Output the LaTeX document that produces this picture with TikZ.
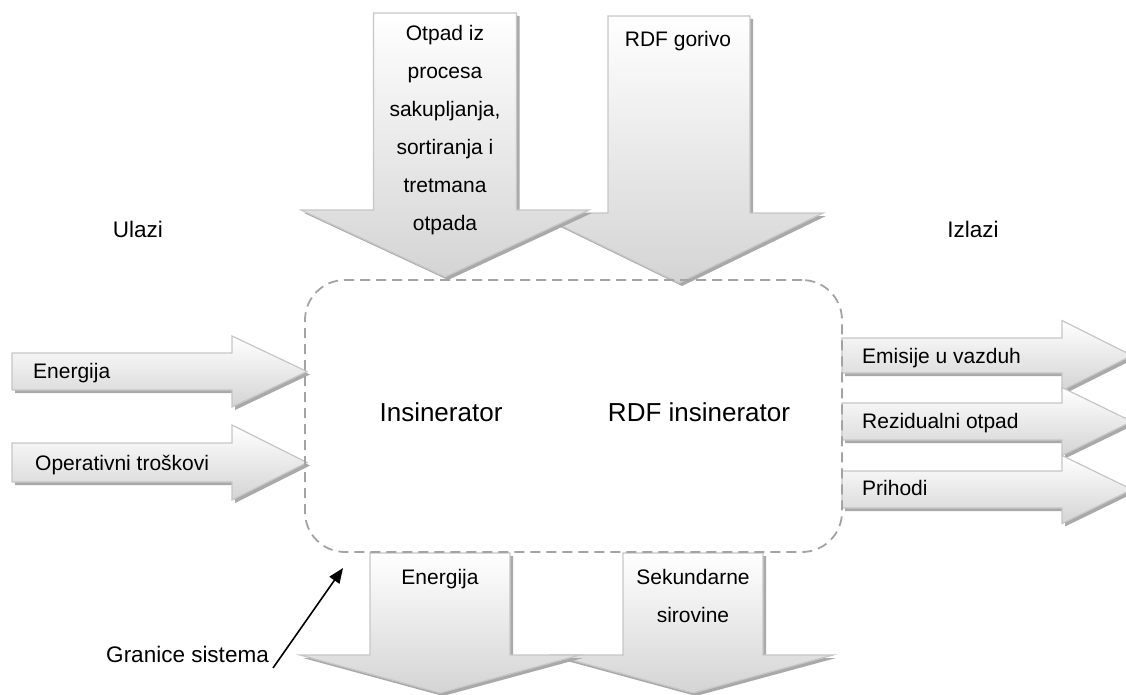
\documentclass[tikz,border=0pt]{standalone}
\usepackage{fontspec}
\setmainfont{Liberation Sans}
\usetikzlibrary{arrows.meta}
\definecolor{edgegray}{HTML}{C6C6C6}
\definecolor{shadowgray}{HTML}{A9A9A9}
\definecolor{fillgray}{HTML}{D4D4D4}
\definecolor{dashgray}{HTML}{A3A3A3}
\newcommand\dnarr[6]{% cx, top, neck, tip, shaft half, head half
  \fill[arrshadow,shift={(3,3)}] (#1-#5,#2) -- (#1+#5,#2) -- (#1+#5,#3) -- (#1+#6,#3) -- (#1,#4) -- (#1-#6,#3) -- (#1-#5,#3) -- cycle;
  \shade[arrbody] (#1-#5,#2) -- (#1+#5,#2) -- (#1+#5,#3) -- (#1+#6,#3) -- (#1,#4) -- (#1-#6,#3) -- (#1-#5,#3) -- cycle;
}
\newcommand\rtarr[6]{% left x, cy, neck x, tip x, shaft half, head half
  \fill[arrshadow,shift={(3,3)}] (#1,#2-#5) -- (#3,#2-#5) -- (#3,#2-#6) -- (#4,#2) -- (#3,#2+#6) -- (#3,#2+#5) -- (#1,#2+#5) -- cycle;
  \shade[arrbody] (#1,#2-#5) -- (#3,#2-#5) -- (#3,#2-#6) -- (#4,#2) -- (#3,#2+#6) -- (#3,#2+#5) -- (#1,#2+#5) -- cycle;
}
\begin{document}
\begin{tikzpicture}[x=1pt,y=-1pt,
  arrbody/.style={top color=white,bottom color=fillgray,draw=edgegray,line width=1.2pt},
  arrshadow/.style={fill=shadowgray},
  lbl/.style={font=\fontsize{21}{38}\selectfont,inner sep=0pt},
  side/.style={font=\fontsize{22.5}{27}\selectfont,inner sep=0pt},
  big/.style={font=\fontsize{26}{30}\selectfont,inner sep=0pt},
  boundary/.style={draw=dashgray,line width=1.8pt,dash pattern=on 10pt off 6pt,rounded corners=40pt},
  pointer/.style={line width=1.6pt,-{Triangle[length=15pt,width=12pt]}},
]
\useasboundingbox (0,0) rectangle (1126,695);
% top input arrows
\dnarr{679}{16}{213}{283}{71}{144}
\dnarr{445}{13}{210}{277}{71.5}{144}
% bottom output arrows
\dnarr{693}{553}{655}{693}{70}{140}
\dnarr{440}{553}{655}{693}{70}{140}
% left input arrows
\rtarr{12}{371.5}{232}{307}{18.5}{35.5}
\rtarr{12}{462.5}{232}{307}{19.5}{37.5}
% right output arrows
\rtarr{842}{355.5}{1062}{1132}{17.5}{35}
\rtarr{842}{421.5}{1062}{1132}{18.5}{34}
\rtarr{842}{489.5}{1062}{1132}{18.5}{34}
% system boundary
\node[boundary,minimum width=537pt,minimum height=272pt,inner sep=0pt] (box) at (573.5,416) {};
% texts
\node[lbl,anchor=north,align=center] (otpad) at (445,25) {Otpad iz\\procesa\\sakupljanja,\\sortiranja i\\tretmana\\otpada};
\node[lbl,anchor=base] (rdf) at (678,47) {RDF gorivo};
\node[lbl,anchor=base west] (ein) at (33,378) {Energija};
\node[lbl,anchor=base west] (opt) at (35,470) {Operativni troškovi};
\node[lbl,anchor=base west] (emi) at (862,363) {Emisije u vazduh};
\node[lbl,anchor=base west] (rez) at (862,428) {Rezidualni otpad};
\node[lbl,anchor=base west] (pri) at (862,495) {Prihodi};
\node[lbl,anchor=base] (eout) at (440,584) {Energija};
\node[lbl,anchor=north,align=center] (sek) at (693,569) {Sekundarne\\sirovine};
\node[side,anchor=base] (ulazi) at (138,237) {Ulazi};
\node[side,anchor=base] (izlazi) at (973,237) {Izlazi};
\node[big] (ins) at (441,412) {Insinerator};
\node[big] (rdfins) at (699,412) {RDF insinerator};
\node[side,anchor=base east] (granice) at (269,662) {Granice sistema};
\coordinate (gtip) at (343,568);
\draw[pointer] ([xshift=4pt,yshift=-6pt]granice.base east) -- (gtip);
\end{tikzpicture}
\end{document}
